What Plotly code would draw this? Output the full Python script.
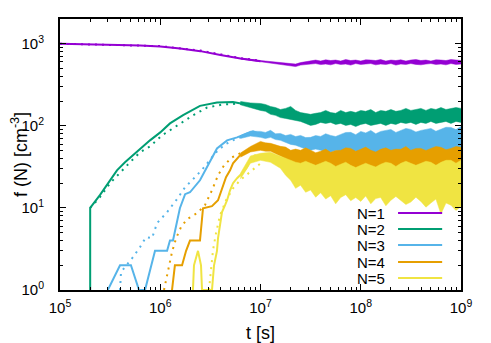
import plotly.graph_objects as go

# valores: t [s] e f(N) [cm^-3]
# parte inicial (curva sólida = simulação, pontilhada = modelo)
t_n1 = [1.0e5, 2.0e5, 3.16e5, 5.0e5, 6.31e5, 1.0e6, 1.58e6, 2.51e6, 3.98e6, 6.31e6, 1.0e7]
f_n1 = [1000, 990, 975, 960, 948, 925, 877, 812, 729, 660, 613]
t_n1_mod = [1.0e5, 1.0e6, 2.51e6, 3.98e6, 6.31e6, 1.0e7]
f_n1_mod = [1000, 935, 825, 740, 668, 620]

t_n2 = [2.0e5, 2.0e5, 2.5e5, 3.16e5, 3.7e5, 4.45e5, 5.35e5, 6.28e5, 7.9e5, 1.0e6,
        1.25e6, 1.69e6, 2.49e6, 3.68e6, 5.32e6, 7.86e6, 1.0e7]
f_n2 = [1, 10, 14.3, 21.7, 28.7, 35.9, 43.7, 53.1, 66.5, 83.2,
        107, 135, 175, 192, 195, 178, 170]
t_n2_mod = [2.0e5, 2.5e5, 3.16e5, 3.97e5, 4.99e5, 6.28e5, 7.9e5, 1.04e6, 1.47e6, 2.12e6,
            2.93e6, 4.23e6, 6.25e6, 8.82e6]
f_n2_mod = [10, 13.5, 20.0, 27.2, 35.9, 47.5, 56.2, 76.4, 101, 134,
            167, 182, 187, 177]

t_n3 = [3.0e5, 3.97e5, 5.1e5, 6.14e5, 7.05e5, 8.87e5, 1.17e6, 1.25e6, 1.34e6, 1.47e6,
        1.57e6, 1.77e6, 1.98e6, 2.49e6, 2.99e6, 3.68e6, 4.64e6, 5.84e6, 7.33e6, 8.42e6, 1.0e7]
f_n3 = [1, 2, 2, 1, 1, 3, 3, 4, 4, 6.7,
        9.9, 14.7, 15.5, 21.7, 33, 53, 66.5, 72.3, 80.8, 85.5, 79]
t_n3_mod = [3.97e5, 4.06e5, 5.35e5, 6.28e5, 7.2e5, 8.28e5, 9.29e5, 1.17e6, 1.47e6, 1.77e6,
            2.22e6, 2.79e6, 3.52e6, 4.43e6, 5.32e6, 7.33e6]
f_n3_mod = [1, 1.65, 2.52, 3.33, 4.41, 4.28, 6.52, 8.87, 12.8, 17.9,
            23.6, 32, 46.2, 59.4, 66.5, 78.6]

t_n4 = [1.31e6, 1.40e6, 1.65e6, 1.81e6, 1.98e6, 2.49e6, 2.67e6, 3.28e6, 3.77e6, 4.13e6,
        4.53e6, 4.97e6, 5.32e6, 6.25e6, 7.33e6, 8.82e6, 1.0e7]
f_n4 = [1, 2, 2, 3, 4, 4, 9.9, 10.5, 12.4, 17.3,
        23.6, 28.7, 34.9, 43.7, 48.9, 53.1, 57]
t_n4_mod = [1.09e6, 1.14e6, 1.22e6, 1.31e6, 1.44e6, 1.61e6, 1.85e6, 2.33e6, 2.79e6, 3.28e6,
            3.77e6, 4.33e6, 5.2e6, 6.25e6, 7.86e6]
f_n4_mod = [1, 1.32, 2.0, 2.9, 4.28, 5.83, 7.29, 8.63, 10.8, 16.4,
            25.0, 33.0, 41.3, 46.2, 50.3]

t_n5 = [2.12e6, 2.17e6, 2.38e6, 2.55e6, 2.61e6, 3.28e6, 3.44e6, 3.68e6, 3.77e6, 3.95e6,
        4.13e6, 4.43e6, 4.64e6, 4.97e6, 5.32e6, 5.84e6, 6.55e6, 7.33e6, 7.86e6, 8.82e6, 1.0e7]
f_n5 = [1, 2, 3, 2, 1, 1, 2, 3, 4.3, 6.2,
        8.9, 10.8, 12.4, 16.4, 20, 23, 26.4, 31.2, 38, 43.7, 42]
t_n5_mod = [3.06e6, 3.21e6, 3.36e6, 3.6e6, 3.95e6, 4.53e6, 5.32e6, 6.25e6, 7.86e6, 1.0e7]
f_n5_mod = [1, 1.75, 3.06, 4.93, 8.15, 12.4, 17.3, 21.7, 27.2, 34.9]

# regime ruidoso (t > 6e6): envelope superior / inferior da faixa
t_ruido = [6.31e6, 7.94e6,
           1.00e7, 1.12e7, 1.26e7, 1.41e7, 1.58e7, 1.78e7, 2.00e7, 2.24e7, 2.51e7, 2.82e7,
           3.16e7, 3.55e7, 3.98e7, 4.47e7, 5.01e7, 5.62e7, 6.31e7, 7.08e7, 7.94e7, 8.91e7,
           1.00e8, 1.12e8, 1.26e8, 1.41e8, 1.58e8, 1.78e8, 2.00e8, 2.24e8, 2.51e8, 2.82e8,
           3.16e8, 3.55e8, 3.98e8, 4.47e8, 5.01e8, 5.62e8, 6.31e8, 7.08e8, 7.94e8, 8.91e8, 1.00e9]

sup_n1 = [668, 640,
          624, 615, 606, 597, 589, 581, 569, 565, 589, 606,
          624, 632, 615, 636, 624, 632, 615, 641, 624, 632,
          615, 636, 632, 624, 641, 615, 632, 624, 636, 615,
          632, 641, 624, 632, 615, 636, 632, 624, 641, 632, 624]
inf_n1 = [652, 628,
          597, 589, 573, 565, 557, 549, 535, 527, 549, 560,
          565, 573, 557, 565, 553, 573, 560, 565, 549, 573,
          560, 565, 573, 553, 565, 560, 573, 549, 565, 560,
          573, 560, 553, 565, 573, 560, 565, 553, 573, 560, 565]

sup_n2 = [198, 190,
          187, 182, 172, 167, 158, 163, 172, 154, 145, 142,
          138, 142, 145, 154, 145, 142, 154, 145, 150, 145,
          154, 150, 158, 145, 154, 150, 158, 150, 154, 163,
          154, 158, 163, 154, 163, 158, 167, 158, 163, 167, 163]
inf_n2 = [180, 165,
          154, 150, 138, 134, 126, 123, 120, 116, 113, 107,
          101, 104, 110, 107, 110, 104, 107, 101, 104, 98,
          104, 107, 101, 104, 107, 101, 107, 104, 110, 107,
          110, 104, 110, 107, 113, 107, 110, 113, 107, 113, 110]

sup_n3 = [76, 86,
          85.5, 83, 88, 80, 80.8, 76, 78.6, 74, 76.4, 72,
          72.3, 76, 74.3, 80, 76.4, 74, 78.6, 83, 83.2, 78,
          85.5, 82, 87.9, 80, 85.5, 88, 90.4, 83, 87.9, 93,
          90.4, 84, 87.9, 90, 93, 86, 90.4, 96, 95.6, 90, 98]
inf_n3 = [70, 75,
          72.3, 70, 72.3, 68, 66.5, 63, 59.4, 58, 54.7, 52,
          50.3, 52, 50.3, 48, 47.5, 50, 48.9, 46, 47.5, 49,
          46.2, 48, 45, 47, 46.2, 49, 46.2, 45, 47.5, 46,
          46.2, 48, 47.5, 45, 46.2, 48, 47.5, 46, 47.5, 49, 50.3]

sup_n4 = [46.5, 56,
          64.6, 62, 61.1, 58, 56.2, 55, 50.3, 52, 50.3, 54,
          50.3, 47, 48.9, 52, 47.5, 50, 50.3, 54, 53.1, 49,
          51.7, 55, 50.3, 48, 51.7, 54, 50.3, 52, 51.7, 56,
          50.3, 53, 53.1, 50, 53.1, 56, 54.7, 51, 53.1, 56, 54.7]
inf_n4 = [41.5, 48,
          50.3, 49, 48.9, 46, 42.5, 40, 34.9, 33, 30.4, 29,
          27.2, 28, 27.2, 25.5, 27.2, 26, 25.7, 24, 23.6, 25,
          24.3, 23, 25.0, 26, 25.7, 24, 26.4, 25, 25.0, 23.5,
          25.0, 26.5, 26.4, 25, 27.2, 25.5, 26.4, 25, 27.2, 26, 27.2]

sup_n5 = [26.4, 43,
          46.2, 47, 47.5, 45, 42.5, 40, 38.0, 36, 35.0, 37,
          34.9, 33, 34.9, 37, 34.9, 32, 34.0, 36, 33.0, 31,
          33.0, 35, 33.0, 31.5, 34.0, 36, 34.9, 32, 34.9, 37,
          34.9, 33, 34.9, 37, 35.9, 33, 35.9, 38, 38.0, 35, 38.0]
inf_n5 = [22.5, 35,
          38.0, 37, 35.9, 33, 30.4, 25, 21.7, 17.3, 18.9, 15.5,
          16.5, 13.5, 15.3, 12.8, 14.1, 11.2, 13.4, 14.5, 12.2, 13.4,
          12.0, 14, 11.2, 13, 13.4, 10.6, 12.4, 13.8, 12.2, 11.0,
          11.8, 13.5, 12.0, 10.2, 11.5, 12.8, 8.4, 11.5, 10.8, 9.3, 10.4]

nomes = ['N=1', 'N=2', 'N=3', 'N=4', 'N=5']
cores = ['#9400D3', '#009E73', '#56B4E9', '#E69F00', '#F0E442']

x_ticks = [1e5, 1e6, 1e7, 1e8, 1e9]
x_ticktext = ['10<sup>5</sup>', '10<sup>6</sup>', '10<sup>7</sup>', '10<sup>8</sup>', '10<sup>9</sup>']
y_ticks = [1, 10, 100, 1000]
y_ticktext = ['10<sup>0</sup>', '10<sup>1</sup>', '10<sup>2</sup>', '10<sup>3</sup>']
x_minor = [m * 10 ** e for e in range(5, 9) for m in range(2, 10)]
y_minor = [m * 10 ** e for e in range(0, 4) for m in range(2, 10) if m * 10 ** e <= 2000]

curvas = [
    (t_n1, f_n1, t_n1_mod, f_n1_mod, sup_n1, inf_n1),
    (t_n2, f_n2, t_n2_mod, f_n2_mod, sup_n2, inf_n2),
    (t_n3, f_n3, t_n3_mod, f_n3_mod, sup_n3, inf_n3),
    (t_n4, f_n4, t_n4_mod, f_n4_mod, sup_n4, inf_n4),
    (t_n5, f_n5, t_n5_mod, f_n5_mod, sup_n5, inf_n5),
]

fig = go.Figure()

for (t, f, tm, fm, sup, inf), nome, cor in zip(curvas, nomes, cores):
    # simulação
    fig.add_trace(go.Scatter(x=t, y=f, mode='lines', name=nome,
                             line=dict(color=cor, width=2)))
    # modelo (pontilhado)
    fig.add_trace(go.Scatter(x=tm, y=fm, mode='lines', showlegend=False,
                             line=dict(color=cor, width=2, dash='2px,5px')))
    # faixa de flutuação
    fig.add_trace(go.Scatter(x=t_ruido, y=inf, mode='lines', showlegend=False,
                             line=dict(color=cor, width=0.5)))
    fig.add_trace(go.Scatter(x=t_ruido, y=sup, mode='lines', showlegend=False,
                             fill='tonexty', fillcolor=cor,
                             line=dict(color=cor, width=0.5)))

# legenda no estilo gnuplot (texto à esquerda, linha à direita)
leg_y = [0.284, 0.225, 0.166, 0.103, 0.044]
for nome, cor, yy in zip(nomes, cores, leg_y):
    fig.add_annotation(x=0.815, y=yy, xref='paper', yref='paper', text=nome,
                       showarrow=False, xanchor='right', yanchor='middle',
                       height=15, font=dict(size=15))
    fig.add_shape(type='line', xref='paper', yref='paper', x0=0.843, x1=0.953,
                  y0=yy, y1=yy, line=dict(color=cor, width=2))

# a página tem margem de 8px no body: figura deslocada 8px
fig.update_layout(
    width=475, height=335,
    margin=dict(l=52, r=22, t=11, b=53),
    plot_bgcolor='white', paper_bgcolor='white',
    showlegend=False,
    font=dict(family='Liberation Sans, Arial, sans-serif', size=15, color='black'),
)
fig.update_xaxes(type='log', range=[5, 9], tickmode='array', tickvals=x_ticks, ticktext=x_ticktext,
                 ticks='inside', ticklen=6, tickwidth=1, tickcolor='black',
                 showline=True, linewidth=2, linecolor='black', mirror='allticks',
                 showgrid=False, zeroline=False, ticklabelstandoff=3, automargin=False,
                 minor=dict(tickmode='array', tickvals=x_minor, ticks='inside', ticklen=3,
                            tickwidth=1, tickcolor='black', showgrid=False),
                 title=dict(text='t [s]', standoff=16))
fig.update_yaxes(type='log', range=[0, 3.30103], tickmode='array', tickvals=y_ticks, ticktext=y_ticktext,
                 ticks='inside', ticklen=6, tickwidth=1, tickcolor='black',
                 showline=True, linewidth=2, linecolor='black', mirror='allticks',
                 showgrid=False, zeroline=False, ticklabelstandoff=11, automargin=False,
                 minor=dict(tickmode='array', tickvals=y_minor, ticks='inside', ticklen=3,
                            tickwidth=1, tickcolor='black', showgrid=False),
                 title=dict(text='f (N) [cm<sup>-3</sup>]', standoff=5, font=dict(size=18)))

fig.write_html("out.html")
